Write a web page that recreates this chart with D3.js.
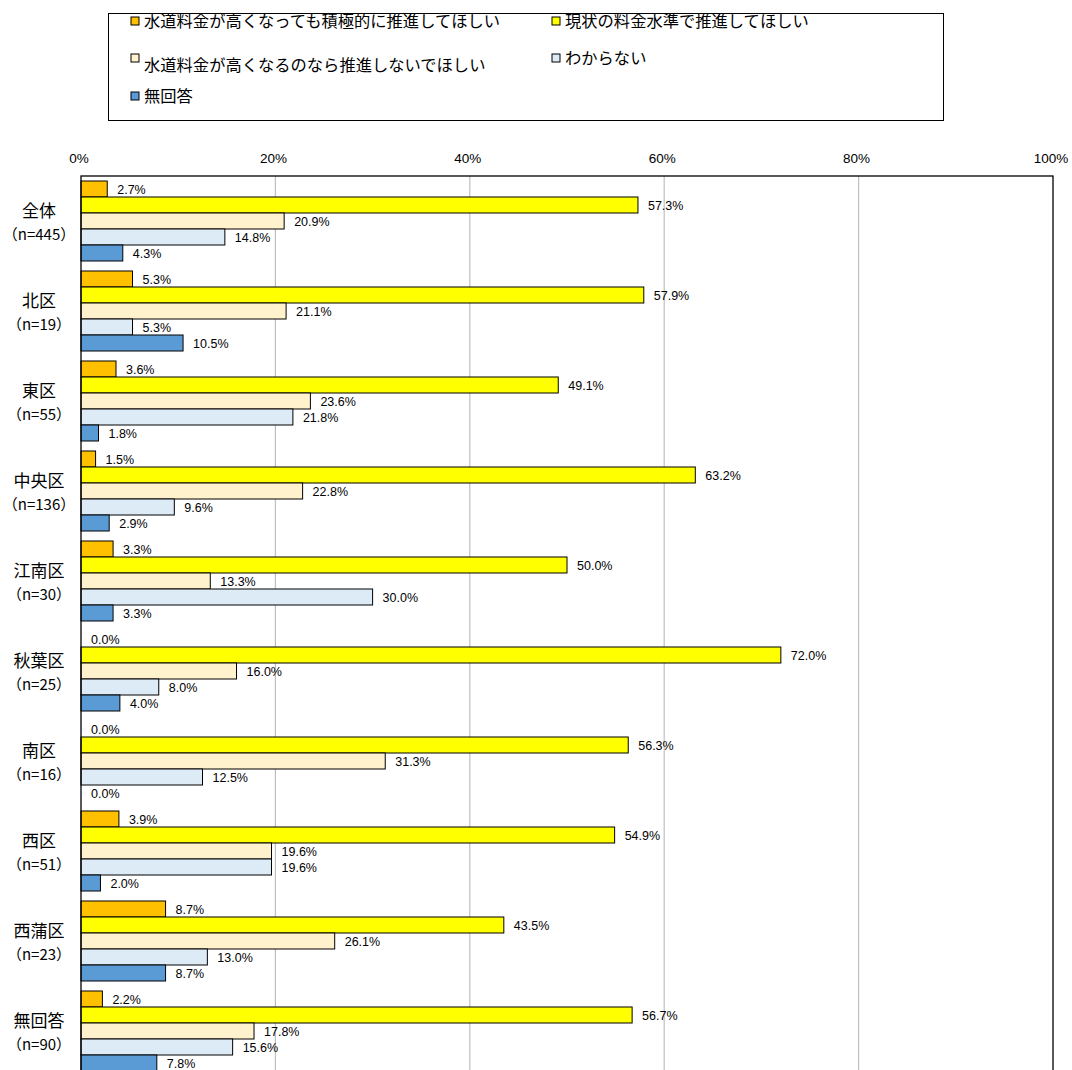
<!DOCTYPE html>
<html><head><meta charset="utf-8">
<script src="https://cdn.jsdelivr.net/npm/d3@7"></script>
<style>body{margin:0;background:#fff}</style>
</head><body><svg id="c" width="1072" height="1070"></svg>
<script>
const categories = ["全体","北区","東区","中央区","江南区","秋葉区","南区","西区","西蒲区","無回答"];
const counts = ["（n=445）","（n=19）","（n=55）","（n=136）","（n=30）","（n=25）","（n=16）","（n=51）","（n=23）","（n=90）"];
const seriesNames = ["水道料金が高くなっても積極的に推進してほしい","現状の料金水準で推進してほしい","水道料金が高くなるのなら推進しないでほしい","わからない","無回答"];
const seriesColors = ["#FFC000","#FFFF00","#FFF2CC","#DDEBF7","#5B9BD5"];
const s1 = [2.7,5.3,3.6,1.5,3.3,0.0,0.0,3.9,8.7,2.2];
const s2 = [57.3,57.9,49.1,63.2,50.0,72.0,56.3,54.9,43.5,56.7];
const s3 = [20.9,21.1,23.6,22.8,13.3,16.0,31.3,19.6,26.1,17.8];
const s4 = [14.8,5.3,21.8,9.6,30.0,8.0,12.5,19.6,13.0,15.6];
const s5 = [4.3,10.5,1.8,2.9,3.3,4.0,0.0,2.0,8.7,7.8];
const tickValues = [0,20,40,60,80,100];
const series = [s1,s2,s3,s4,s5];

const svg = d3.select("#c");
const L = 81, R = 1053, T = 176, B = 1076;
const x = d3.scaleLinear().domain([0,100]).range([L,R]);
const y0 = d3.scaleBand().domain(categories).range([T,B]).paddingInner(0.111).paddingOuter(0.0555);
const y1 = d3.scaleBand().domain(d3.range(5)).range([0,y0.bandwidth()]);
const jp = "'Noto Sans CJK JP','Noto Sans',sans-serif";
const num = "'Liberation Sans Narrow','Liberation Sans',Arial,sans-serif";

// gridlines
svg.append("g").selectAll("line").data(tickValues.filter(d=>d>0&&d<100)).join("line")
  .attr("x1",d=>x(d)).attr("x2",d=>x(d)).attr("y1",T).attr("y2",B)
  .attr("stroke","#BFBFBF").attr("stroke-width",1.2);

// axis labels
svg.append("g").selectAll("text").data(tickValues).join("text")
  .attr("x",d=>x(d)-2).attr("y",163).attr("text-anchor","middle")
  .attr("font-family",num).attr("font-size",13.5).attr("fill","#000")
  .text(d=>d+"%");

// bars
const rows = categories.map((c,i)=>({c,i}));
const g = svg.append("g").selectAll("g").data(rows).join("g")
  .attr("transform",d=>`translate(0,${y0(d.c)})`);
g.selectAll("rect").data(d=>series.map((s,k)=>({k,v:s[d.i]}))).join("rect")
  .attr("x",x(0)).attr("y",d=>y1(d.k)).attr("width",d=>x(d.v)-x(0)).attr("height",y1.bandwidth())
  .attr("fill",d=>seriesColors[d.k]).attr("stroke",d=>d.v>0?"#000":"none").attr("stroke-width",1);
g.selectAll("text.v").data(d=>series.map((s,k)=>({k,v:s[d.i]}))).join("text").attr("class","v")
  .attr("x",d=>x(d.v)+10).attr("y",d=>y1(d.k)+y1.bandwidth()/2+5.5)
  .attr("font-family",num).attr("font-size",12.5).attr("fill","#000")
  .text(d=>d.v.toFixed(1)+"%");

// category labels
const cl = svg.append("g").selectAll("g").data(rows).join("g");
cl.append("text").attr("x",39).attr("y",d=>y0(d.c)+y0.bandwidth()/2-4)
  .attr("text-anchor","middle").attr("font-family",jp).attr("font-size",17).attr("fill","#000").text(d=>d.c);
cl.append("text").attr("x",39).attr("y",d=>y0(d.c)+y0.bandwidth()/2+19)
  .attr("text-anchor","middle").attr("font-family",jp).attr("font-size",15).attr("fill","#000").text(d=>counts[d.i]);

// plot frame
svg.append("rect").attr("x",L).attr("y",T).attr("width",R-L).attr("height",B-T)
  .attr("fill","none").attr("stroke","#000").attr("stroke-width",1.3);

// legend
svg.append("rect").attr("x",108.5).attr("y",13.5).attr("width",835).attr("height",107)
  .attr("fill","#fff").attr("stroke","#000").attr("stroke-width",1);
const legPos = [[131,21,21],[552,21,21],[131,58,65],[552,58,58],[131,96,96]];
const lg = svg.append("g").selectAll("g").data(seriesNames).join("g");
lg.append("rect").attr("x",(d,i)=>legPos[i][0]).attr("y",(d,i)=>legPos[i][1]-4).attr("width",8).attr("height",8)
  .attr("fill",(d,i)=>seriesColors[i]).attr("stroke","#000").attr("stroke-width",1);
lg.append("text").attr("x",(d,i)=>legPos[i][0]+13).attr("y",(d,i)=>legPos[i][2]+6)
  .attr("font-family",jp).attr("font-size",16.3).attr("fill","#000").text(d=>d);
</script></body></html>
